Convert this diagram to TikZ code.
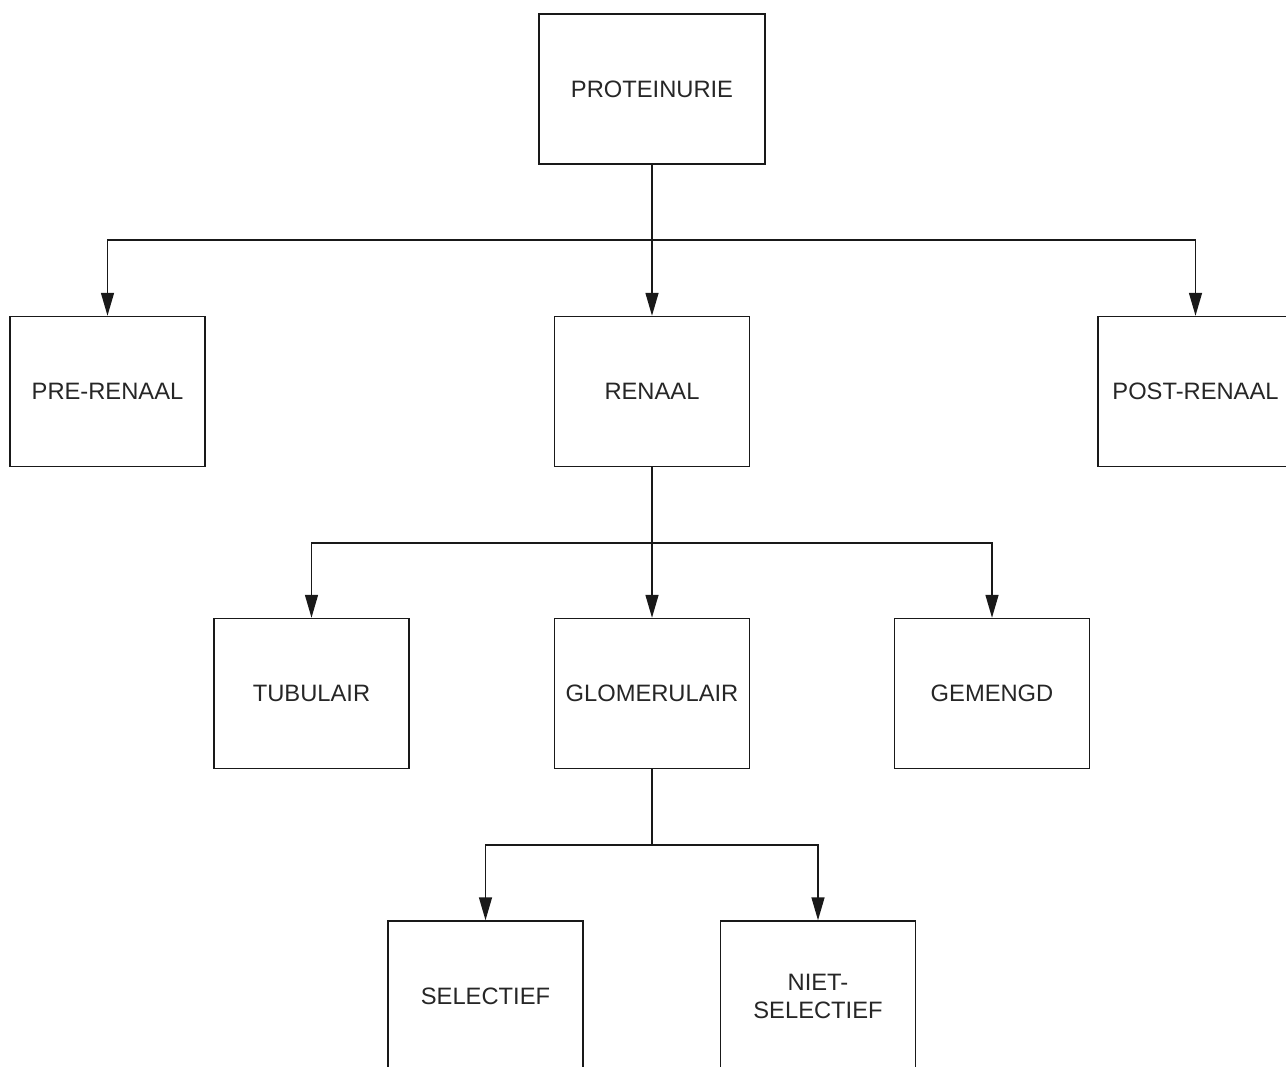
\documentclass[tikz,border=0pt]{standalone}
\usepackage{fontspec}
\setmainfont{Liberation Sans}
\usepackage{tikz}
\usetikzlibrary{arrows.meta}

\begin{document}
\begin{tikzpicture}[
  box/.style={draw=black!90, line width=0.85pt, minimum width=3.9cm, minimum height=3cm,
    inner sep=0pt, align=center, font=\fontsize{13.5}{16}\selectfont, text=black!85},
  link/.style={draw=black!90, line width=0.85pt},
  arr/.style={link, -{Triangle[length=4.6mm,width=2.6mm]}}]
\clip (0,0) rectangle (25.72,-21.32);
% top
\node[box, minimum width=4.52cm] (prot) at (13.04,-1.78) {PROTEINURIE};
\node[box] (pre) at (2.15,-7.83) {PRE-RENAAL};
\node[box] (ren) at (13.04,-7.83) {RENAAL};
\node[box] (post) at (23.91,-7.83) {POST-RENAAL};
% middle
\node[box] (tub) at (6.23,-13.87) {TUBULAIR};
\node[box] (glom) at (13.04,-13.87) {GLOMERULAIR};
\node[box] (gem) at (19.84,-13.87) {GEMENGD};
% bottom
\node[box] (sel) at (9.71,-19.92) {SELECTIEF};
\node[box] (niet) at (16.36,-19.92) {NIET-\\SELECTIEF};
% branch points
\coordinate (b1) at (13.04,-4.8);
\coordinate (b2) at (13.04,-10.86);
\coordinate (b3) at (13.04,-16.9);
\draw[link] (prot) -- (b1);
\draw[arr] (b1) -| (pre);
\draw[arr] (b1) -- (ren);
\draw[arr] (b1) -| (post);
\draw[link] (ren) -- (b2);
\draw[arr] (b2) -| (tub);
\draw[arr] (b2) -- (glom);
\draw[arr] (b2) -| (gem);
\draw[link] (glom) -- (b3);
\draw[arr] (b3) -| (sel);
\draw[arr] (b3) -| (niet);
\end{tikzpicture}
\end{document}
